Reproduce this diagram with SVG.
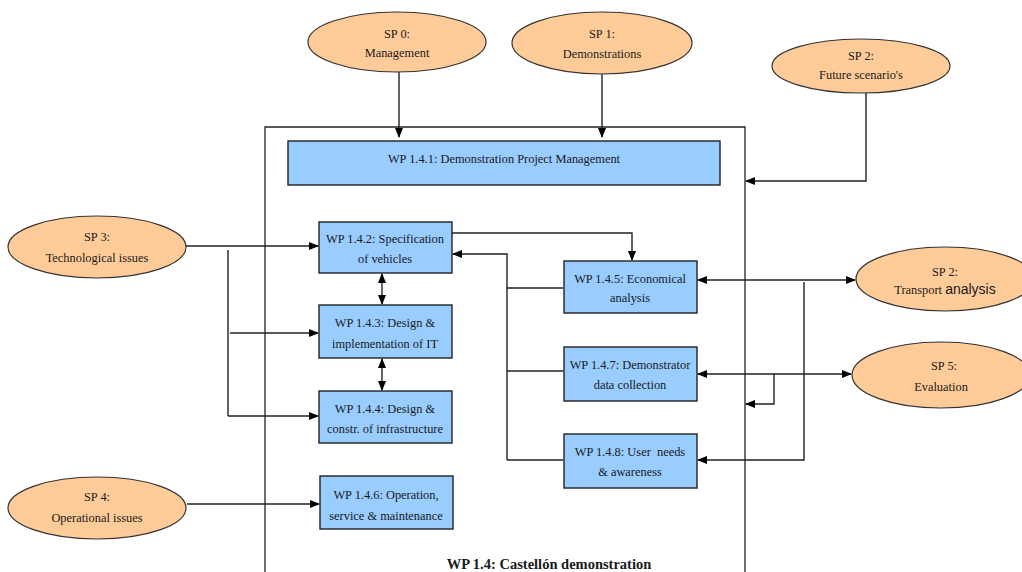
<svg xmlns="http://www.w3.org/2000/svg" width="1022" height="572" viewBox="0 0 1022 572">
<defs>
<marker id="ah" markerWidth="10" markerHeight="8" refX="9" refY="4" orient="auto-start-reverse" markerUnits="userSpaceOnUse">
<path d="M0,0 L10,4 L0,8 Z" fill="#000"/>
</marker>
<style>
text{font-family:"Liberation Serif","Times New Roman",serif;font-size:12.4px;fill:#1a1a1a;text-anchor:middle}
.sp{fill:#FFCC99;stroke:#333;stroke-width:1.2}
.wp{fill:#99CCFF;stroke:#222;stroke-width:1.4}
.c{fill:none;stroke:#222;stroke-width:1.4}
.a{marker-end:url(#ah)}
.b{marker-start:url(#ah);marker-end:url(#ah)}
.title{font-weight:bold;font-size:14.5px}
.sans{font-family:"Liberation Sans",Arial,sans-serif;font-size:14px}
</style>
</defs>
<rect width="1022" height="572" fill="#fff"/>

<g id="outer">
<path d="M265,580 V127 H745 V580" fill="none" stroke="#222" stroke-width="1.3"/>
<text class="title" x="549" y="569">WP 1.4: Castellón demonstration</text>
</g>

<g id="connectors">
<path class="c a" d="M399,72 V137"/>
<path class="c a" d="M602,73 V137"/>
<path class="c a" d="M866,93 V181 H746"/>
<path class="c a" d="M186,246 H318"/>
<path class="c" d="M228,250 V416"/>
<path class="c a" d="M230,333 H318"/>
<path class="c a" d="M228,416 H318"/>
<path class="c b" d="M382,274 V304"/>
<path class="c b" d="M382,359 V390"/>
<path class="c a" d="M452,233 H632 V260"/>
<path class="c a" d="M507,460 V254 H453"/>
<path class="c" d="M507,288 H563"/>
<path class="c" d="M507,371 H563"/>
<path class="c" d="M507,460 H563"/>
<path class="c b" d="M698,280 H855"/>
<path class="c a" d="M804,282 V460 H698"/>
<path class="c b" d="M698,374 H851"/>
<path class="c a" d="M774,374 V404 H746"/>
<path class="c a" d="M187,504 H319"/>
</g>

<g id="sp0"><ellipse class="sp" cx="397" cy="42" rx="89" ry="30"/><text x="397" y="38">SP 0:</text><text x="397" y="57">Management</text></g>
<g id="sp1"><ellipse class="sp" cx="602" cy="43" rx="90" ry="31"/><text x="602" y="38">SP 1:</text><text x="602" y="58">Demonstrations</text></g>
<g id="sp2f"><ellipse class="sp" cx="861" cy="66" rx="89" ry="27"/><text x="861" y="60">SP 2:</text><text x="861" y="79">Future scenario's</text></g>
<g id="sp3"><ellipse class="sp" cx="97" cy="247" rx="89" ry="31"/><text x="97" y="241">SP 3:</text><text x="97" y="262">Technological issues</text></g>
<g id="sp2t"><ellipse class="sp" cx="945" cy="279" rx="89" ry="32"/><text x="945" y="276">SP 2:</text><text x="945" y="294">Transport <tspan class="sans">analysis</tspan></text></g>
<g id="sp5"><ellipse class="sp" cx="941" cy="375" rx="89" ry="33"/><text x="944" y="370">SP 5:</text><text x="941" y="391">Evaluation</text></g>
<g id="sp4"><ellipse class="sp" cx="97" cy="508" rx="89" ry="31"/><text x="97" y="501">SP 4:</text><text x="97" y="522">Operational issues</text></g>

<g id="wp141"><rect class="wp" x="288" y="141" width="432" height="44"/><text x="504" y="163">WP 1.4.1: Demonstration Project Management</text></g>
<g id="wp142"><rect class="wp" x="319" y="222" width="133" height="51"/><text x="385" y="243">WP 1.4.2: Specification</text><text x="385" y="263">of vehicles</text></g>
<g id="wp143"><rect class="wp" x="319" y="305" width="133" height="53"/><text x="385" y="327">WP 1.4.3: Design &amp;</text><text x="385" y="348">implementation of IT</text></g>
<g id="wp144"><rect class="wp" x="319" y="391" width="133" height="52"/><text x="385" y="413">WP 1.4.4: Design &amp;</text><text x="385" y="433">constr. of infrastructure</text></g>
<g id="wp146"><rect class="wp" x="320" y="476" width="133" height="53"/><text x="386" y="499">WP 1.4.6: Operation,</text><text x="386" y="520">service &amp; maintenance</text></g>
<g id="wp145"><rect class="wp" x="564" y="261" width="133" height="52"/><text x="630" y="283">WP 1.4.5: Economical</text><text x="630" y="302">analysis</text></g>
<g id="wp147"><rect class="wp" x="564" y="347" width="133" height="54"/><text x="630" y="369">WP 1.4.7: Demonstrator</text><text x="630" y="389">data collection</text></g>
<g id="wp148"><rect class="wp" x="564" y="434" width="133" height="54"/><text x="630" y="456" xml:space="preserve">WP 1.4.8: User  needs</text><text x="630" y="476">&amp; awareness</text></g>
</svg>
